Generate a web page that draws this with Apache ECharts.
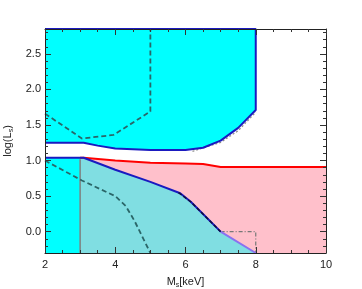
<!DOCTYPE html>
<html>
<head>
<meta charset="utf-8">
<script src="https://cdn.jsdelivr.net/npm/echarts@6/dist/echarts.min.js"></script>
<style>
html,body{margin:0;padding:0;background:#fff;}
#c{width:362px;height:289px;}
</style>
</head>
<body>
<div id="c"></div>
<script>
// ---- data ----
const xRange = [2, 10];
const yRange = [-0.3, 2.85];
const xMajorTicks = [2, 4, 6, 8, 10];
const yMajorTicks = [0, 0.5, 1.0, 1.5, 2.0, 2.5];
const yMinorTicks = [-0.2, -0.1, 0.1, 0.2, 0.3, 0.4, 0.6, 0.7, 0.8, 0.9, 1.1, 1.2, 1.3, 1.4, 1.6, 1.7, 1.8, 1.9, 2.1, 2.2, 2.3, 2.4, 2.6, 2.7, 2.8];

// upper cyan region: lower boundary (filled up to top)
const upperBoundX = [2, 3, 3.1, 3.5, 4, 5, 6, 6.5, 7, 7.5, 8, 8];
const upperBoundY = [1.25, 1.25, 1.25, 1.21, 1.17, 1.15, 1.15, 1.18, 1.28, 1.46, 1.71, 2.85];
// top edge of upper cyan region
const upperTopX = [8, 2];
const upperTopY = [2.85, 2.85];

// lower-left cyan block
const lowCyanX = [2, 3];
const lowCyanY = [1.04, 1.04];

// teal region under the blue curve
const tealX = [3, 3.1, 4, 5, 5.85, 6.15, 7];
const tealY = [1.04, 1.04, 0.87, 0.70, 0.54, 0.42, 0.0];
const purpleX = [7, 8];
const purpleY = [0.0, -0.3];

// red curve (pink region below)
const redX = [3, 3.1, 4, 5, 6, 6.5, 7, 8, 9, 10];
const redY = [1.04, 1.04, 1.0, 0.97, 0.96, 0.95, 0.91, 0.91, 0.91, 0.91];

// vertical gray line at 3 keV
const grayX = [3, 3];
const grayY = [-0.3, 1.02];

// dashed contours
const dashUpX = [2, 3.05, 3.95, 5, 5];
const dashUpY = [1.66, 1.31, 1.36, 1.69, 2.85];
const dashLowX = [2, 3.05, 4, 4.3, 4.55, 5];
const dashLowY = [1.0, 0.72, 0.5, 0.36, 0.15, -0.3];

// dash-dot contours
const dotBoxX = [7, 8, 8];
const dotBoxY = [0.0, 0.0, -0.3];
const dotUpX = [6.2, 7, 7.5, 8];
const dotUpY = [1.13, 1.255, 1.42, 1.68];
const dotMidX = [5.8, 6.15, 7];
const dotMidY = [0.55, 0.42, 0.0];

const zip = (xs, ys) => xs.map((x, i) => [x, ys[i]]);

const FONT = 'Liberation Sans';
const TXT = '#222';

const base = {type: 'line', showSymbol: false, symbol: 'none', silent: true, animation: false};

const chart = echarts.init(document.getElementById('c'), null, {renderer: 'canvas'});

const xAxisCommon = {
  type: 'value', min: xRange[0], max: xRange[1], interval: 2, z: 20,
  splitLine: {show: false},
  axisLine: {show: true, onZero: false, lineStyle: {color: '#222', width: 1}},
  axisTick: {show: true, inside: true, length: 6, lineStyle: {color: '#333'}},
  minorTick: {show: true, splitNumber: 4, length: 3, lineStyle: {color: '#333'}},
  minorSplitLine: {show: false}
};

const yAxisCommon = {
  type: 'value', min: yRange[0], max: yRange[1], z: 20,
  splitLine: {show: false},
  axisLine: {show: true, onZero: false, lineStyle: {color: '#222', width: 1}}
};

chart.setOption({
  animation: false,
  grid: {left: 45, right: 36, top: 29, bottom: 36, containLabel: false, outerBoundsMode: 'none'},
  xAxis: [
    Object.assign({}, xAxisCommon, {
      position: 'bottom',
      name: '{n|M}{s|s}{n|[keV]}',
      nameLocation: 'middle', nameGap: 18,
      nameTextStyle: {rich: {
        n: {fontFamily: FONT, fontSize: 11, color: TXT, lineHeight: 14},
        s: {fontFamily: FONT, fontSize: 7, color: TXT, lineHeight: 7, padding: [7, 0, 0, 0]}
      }},
      axisLabel: {show: true, fontFamily: FONT, fontSize: 11, color: TXT, margin: 6,
        formatter: v => String(v)}
    }),
    Object.assign({}, xAxisCommon, {position: 'top', axisLabel: {show: false}})
  ],
  yAxis: [
    Object.assign({}, yAxisCommon, {
      position: 'left',
      name: '{n|log(L}{s|s}{n|)}',
      nameLocation: 'middle', nameGap: 29, nameRotate: 90,
      nameTextStyle: {rich: {
        n: {fontFamily: FONT, fontSize: 11, color: TXT, lineHeight: 14},
        s: {fontFamily: FONT, fontSize: 7, color: TXT, lineHeight: 7, padding: [7, 0, 0, 0]}
      }},
      axisTick: {show: true, inside: true, length: 6, customValues: yMajorTicks, lineStyle: {color: '#333'}},
      axisLabel: {show: true, customValues: yMajorTicks, fontFamily: FONT, fontSize: 11, color: TXT, margin: 4,
        formatter: v => Number(v).toFixed(1)}
    }),
    Object.assign({}, yAxisCommon, {
      position: 'left', axisLine: {show: false},
      axisTick: {show: true, inside: true, length: 3, customValues: yMinorTicks, lineStyle: {color: '#333'}},
      axisLabel: {show: false}
    }),
    Object.assign({}, yAxisCommon, {
      position: 'right',
      axisTick: {show: true, inside: true, length: 6, customValues: yMajorTicks, lineStyle: {color: '#333'}},
      axisLabel: {show: false}
    }),
    Object.assign({}, yAxisCommon, {
      position: 'right', axisLine: {show: false},
      axisTick: {show: true, inside: true, length: 3, customValues: yMinorTicks, lineStyle: {color: '#333'}},
      axisLabel: {show: false}
    })
  ],
  series: [
    // pink area
    Object.assign({}, base, {data: zip(redX, redY), z: 1,
      lineStyle: {width: 0, opacity: 0},
      areaStyle: {color: '#FFC0CB', opacity: 1, origin: 'start'}}),
    // teal area
    Object.assign({}, base, {data: zip(tealX.concat(purpleX.slice(1)), tealY.concat(purpleY.slice(1))), z: 2,
      lineStyle: {width: 0, opacity: 0},
      areaStyle: {color: '#80DEE2', opacity: 1, origin: 'start'}}),
    // lower cyan block
    Object.assign({}, base, {data: zip(lowCyanX, lowCyanY), z: 3,
      lineStyle: {width: 0, opacity: 0},
      areaStyle: {color: '#00FFFF', opacity: 1, origin: 'start'}}),
    // upper cyan area (filled to top)
    Object.assign({}, base, {data: zip(upperBoundX, upperBoundY), z: 3,
      lineStyle: {width: 0, opacity: 0},
      areaStyle: {color: '#00FFFF', opacity: 1, origin: 'end'}}),
    // red line
    Object.assign({}, base, {data: zip(redX, redY), z: 5,
      lineStyle: {color: '#FF0000', width: 2}}),
    // gray vertical
    Object.assign({}, base, {data: zip(grayX, grayY), z: 5,
      lineStyle: {color: '#808080', width: 1.5}}),
    // dash-dot contours
    Object.assign({}, base, {data: zip(dotBoxX, dotBoxY), z: 5,
      lineStyle: {color: '#777', width: 1.2, type: [4, 2, 1, 2]}}),
    Object.assign({}, base, {data: zip(dotUpX, dotUpY), z: 5,
      lineStyle: {color: '#888', width: 1.2, type: [2, 2]}}),
    // blue boundaries
    Object.assign({}, base, {data: zip(upperBoundX.concat(upperTopX), upperBoundY.concat(upperTopY)), z: 6,
      lineStyle: {color: '#1a1ac0', width: 2}}),
    Object.assign({}, base, {data: zip([2].concat(tealX), [1.04].concat(tealY)), z: 6,
      lineStyle: {color: '#1a1ac0', width: 2}}),
    Object.assign({}, base, {data: zip(purpleX, purpleY), z: 6,
      lineStyle: {color: '#8a70f0', width: 2}}),
    Object.assign({}, base, {data: zip(dotMidX, dotMidY), z: 7,
      lineStyle: {color: '#101040', width: 1.5, type: [4, 2]}}),
    // dashed teal contours
    Object.assign({}, base, {data: zip(dashUpX, dashUpY), z: 7,
      lineStyle: {color: '#2a6668', width: 1.8, type: [5, 3]}}),
    Object.assign({}, base, {data: zip(dashLowX, dashLowY), z: 7,
      lineStyle: {color: '#2a6668', width: 1.8, type: [5, 3]}})
  ]
});
</script>
</body>
</html>
